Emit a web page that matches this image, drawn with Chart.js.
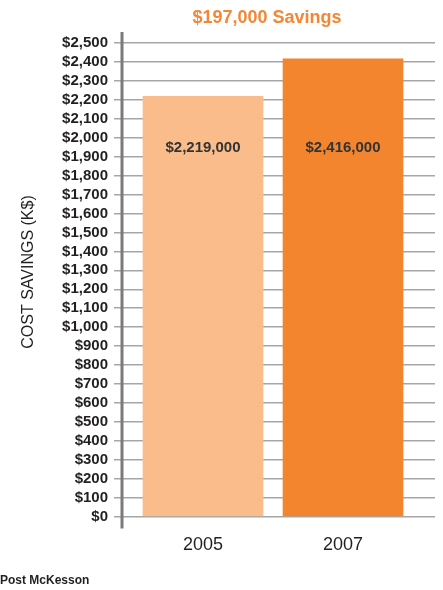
<!DOCTYPE html>
<html>
<head>
<meta charset="utf-8">
<script src="https://cdn.jsdelivr.net/npm/chart.js@4/dist/chart.umd.min.js"></script>
<style>
  html, body { margin: 0; padding: 0; background: #fff; }
  #wrap { width: 443px; height: 590px; position: relative; }
</style>
</head>
<body>
<div id="wrap"><canvas id="chart"></canvas></div>
<script>
// data (K$)
const years = [2005, 2007];
const costs = [2219, 2416];
const valueLabels = ['$2,219,000', '$2,416,000'];
const barColors = ['#F9BC8A', '#F3852E'];
const chartTitle = '$197,000 Savings';
const axisTitle = 'COST SAVINGS (K$)';
const footNote = 'Post McKesson';

const FONT = "'Liberation Sans', Arial, sans-serif";
const INK = '#231F20';

// title, axis title, value labels and the heavy axis rule
const decorations = {
  id: 'decorations',
  afterDraw(chart) {
    const { ctx, chartArea, scales } = chart;
    ctx.save();
    // heavy y axis line, runs past the plot a little
    ctx.strokeStyle = '#7A7A7A';
    ctx.lineWidth = 3;
    ctx.beginPath();
    ctx.moveTo(chartArea.left, chartArea.top - 11);
    ctx.lineTo(chartArea.left, chartArea.bottom + 12);
    ctx.stroke();

    ctx.textAlign = 'center';
    ctx.textBaseline = 'middle';
    ctx.fillStyle = '#F58634';
    ctx.font = 'bold 18px ' + FONT;
    ctx.fillText(chartTitle, 267, 18);

    ctx.save();
    ctx.translate(29, 272);
    ctx.rotate(-Math.PI / 2);
    ctx.fillStyle = INK;
    ctx.font = '16px ' + FONT;
    ctx.fillText(axisTitle, 0, 0);
    ctx.restore();

    ctx.fillStyle = '#333';
    ctx.font = 'bold 15px ' + FONT;
    const meta = chart.getDatasetMeta(0);
    meta.data.forEach((bar, i) => {
      ctx.fillText(valueLabels[i], bar.x, scales.y.getPixelForValue(1945));
    });
    ctx.restore();
  }
};

new Chart(document.getElementById('chart'), {
  type: 'bar',
  data: {
    datasets: [{
      data: years.map((y, i) => ({ x: y, y: costs[i] })),
      backgroundColor: barColors,
      borderWidth: 0,
      barThickness: 120
    }]
  },
  options: {
    responsive: true,
    maintainAspectRatio: false,
    animation: false,
    layout: { padding: { top: 43, right: 8, left: 0, bottom: 0 } },
    plugins: {
      legend: { display: false },
      tooltip: { enabled: false },
      title: {
        display: true,
        text: footNote,
        position: 'bottom',
        align: 'start',
        color: INK,
        font: { family: FONT, size: 12, weight: 'bold' },
        padding: { top: 0, bottom: 2 }
      }
    },
    scales: {
      x: {
        type: 'linear',
        offset: false,
        min: 2003.843,
        max: 2008.314,
        grid: { display: false },
        border: { display: false },
        afterBuildTicks: s => { s.ticks = years.map(v => ({ value: v })); },
        afterFit: s => { s.height = 57; },
        ticks: {
          color: INK,
          padding: 10,
          font: { family: FONT, size: 18 },
          callback: v => String(v)
        }
      },
      y: {
        min: 0,
        max: 2500,
        z: 1,
        afterFit: s => { s.width = 122; },
        grid: { color: '#A6A6A6', lineWidth: 1.5, tickLength: 8 },
        border: { display: false },
        ticks: {
          stepSize: 100,
          autoSkip: false,
          color: INK,
          padding: 6,
          font: { family: FONT, size: 15, weight: 'bold' },
          callback: v => '$' + v.toLocaleString('en-US')
        }
      }
    }
  },
  plugins: [decorations]
});
</script>
</body>
</html>
